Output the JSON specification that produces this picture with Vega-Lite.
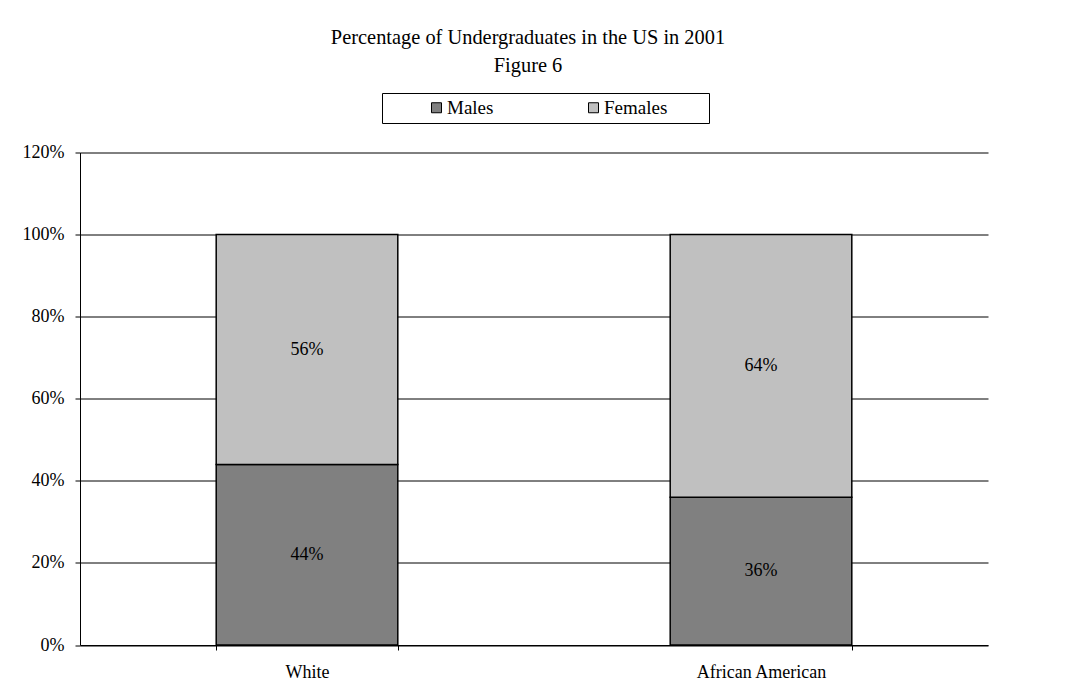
{
  "$schema": "https://vega.github.io/schema/vega-lite/v6.json",
  "width": 908,
  "height": 492.5,
  "autosize": {"type": "none"},
  "padding": {"left": 80, "top": 152.5, "right": 98, "bottom": 55},
  "background": "white",
  "title": {
    "text": ["Percentage of Undergraduates in the US in 2001", "Figure 6"],
    "frame": "group",
    "anchor": "middle",
    "font": "Liberation Serif",
    "fontSize": 20.4,
    "fontWeight": "normal",
    "color": "black",
    "lineHeight": 28,
    "baseline": "alphabetic",
    "offset": 0,
    "dx": -6
  },
  "data": {
    "values": [
      {"group": "White", "sex": "Males", "share": 0.44},
      {"group": "White", "sex": "Females", "share": 0.56},
      {"group": "African American", "sex": "Males", "share": 0.36},
      {"group": "African American", "sex": "Females", "share": 0.64}
    ]
  },
  "config": {
    "font": "Liberation Serif",
    "view": {"stroke": null},
    "axis": {
      "labelFont": "Liberation Serif",
      "labelFontSize": 18,
      "labelColor": "black",
      "domainColor": "black",
      "tickColor": "black",
      "gridColor": "black",
      "gridWidth": 1,
      "domainWidth": 1,
      "tickWidth": 1,
      "tickSize": 5
    }
  },
  "encoding": {
    "x": {
      "field": "group",
      "type": "nominal",
      "sort": ["White", "African American"],
      "scale": {"paddingInner": 0.6, "paddingOuter": 0.3},
      "axis": {"title": null, "labelAngle": 0, "tickBand": "extent", "labelPadding": 13, "grid": false}
    }
  },
  "layer": [
    {
      "mark": {"type": "bar", "stroke": "black", "strokeWidth": 1.5},
      "encoding": {
        "y": {
          "field": "share",
          "type": "quantitative",
          "stack": "zero",
          "scale": {"domain": [0, 1.2], "nice": false},
          "axis": {
            "title": null,
            "format": ".0%",
            "values": [0, 0.2, 0.4, 0.6, 0.8, 1.0, 1.2],
            "labelPadding": 11,
            "grid": true
          }
        },
        "color": {
          "field": "sex",
          "type": "nominal",
          "sort": ["Males", "Females"],
          "scale": {"domain": ["Males", "Females"], "range": ["#808080", "#C0C0C0"]},
          "legend": {
            "title": " ",
            "titleOrient": "right",
            "titlePadding": 37,
            "orient": "none",
            "direction": "horizontal",
            "legendX": 302,
            "legendY": -59.5,
            "padding": 5,
            "strokeColor": "black",
            "fillColor": "white",
            "symbolType": "square",
            "symbolSize": 100,
            "symbolStrokeColor": "black",
            "symbolStrokeWidth": 1,
            "symbolOpacity": 1,
            "symbolOffset": 40,
            "labelOffset": 1,
            "labelFont": "Liberation Serif",
            "labelFontSize": 19,
            "labelColor": "black",
            "columnPadding": 50
          }
        },
        "order": {"field": "sex", "sort": "descending"}
      }
    },
    {
      "transform": [
        {"stack": "share", "groupby": ["group"], "sort": [{"field": "sex", "order": "descending"}], "as": ["lo", "hi"]},
        {"calculate": "(datum.lo + datum.hi) / 2", "as": "mid"}
      ],
      "mark": {"type": "text", "font": "Liberation Serif", "fontSize": 18, "color": "black", "baseline": "middle"},
      "encoding": {
        "y": {"field": "mid", "type": "quantitative"},
        "text": {"field": "share", "type": "quantitative", "format": ".0%"}
      }
    }
  ]
}
